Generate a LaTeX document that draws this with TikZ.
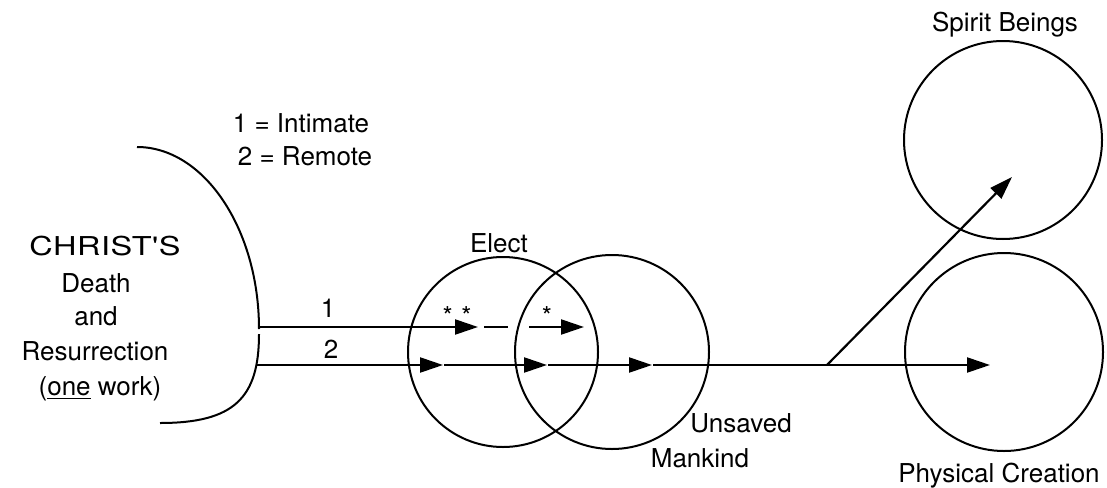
\documentclass[tikz,border=0pt]{standalone}
\usepackage{fontspec}
\newfontfamily\hv{TeX Gyre Heros}
\newfontfamily\hvwide{TeX Gyre Heros}[FakeStretch=1.25,LetterSpace=2]
\usetikzlibrary{arrows.meta}
\begin{document}
\begin{tikzpicture}[x=0.5pt,y=-0.5pt,
  ring/.style={circle, draw, line width=1pt, inner sep=0pt},
  curve/.style={line width=1pt},
  conn/.style={line width=1.1pt, -{Triangle[length=11.5pt,width=7.5pt]}},
  plain/.style={line width=1.1pt},
  lbl/.style={font=\hv\fontsize{13}{16}\selectfont, inner sep=0pt, anchor=base}]
\useasboundingbox (0,0) rectangle (1107,487);

% the half-shell standing for the one work
\coordinate (arcTop)  at (137,147);
\coordinate (arcMidA) at (259,329);
\coordinate (arcMidB) at (259,334);
\coordinate (arcBot)  at (160,423);
\draw[curve] (arcTop) .. controls (204,147) and (259,229) .. (arcMidA);
\draw[curve] (arcMidB) .. controls (259,398) and (234,423) .. (arcBot);

% the four spheres
\node[ring, minimum size=95pt] (elect)    at (503,352) {};
\node[ring, minimum size=97pt] (unsaved)  at (612,352) {};
\node[ring, minimum size=99pt] (spirit)   at (1003,140) {};
\node[ring, minimum size=99pt] (physical) at (1004,352) {};

% text of the source
\node[lbl] (c1) at (105,255) {\hvwide\fontsize{13}{16}\selectfont CHRIST'S};
\node[lbl] (c2) at (96,292) {Death};
\node[lbl] (c3) at (96,325) {and};
\node[lbl] (c4) at (95,360) {Resurrection};
\node[lbl] (c5) at (100,395) {(\underline{one} work)};

% legend
\node[lbl] (key1) at (301,132) {1 = Intimate};
\node[lbl] (key2) at (305,165) {2 = Remote};

% sphere names
\node[lbl] (electName)  at (499,252) {Elect};
\node[lbl] (unsavedA)   at (741,432) {Unsaved};
\node[lbl] (unsavedB)   at (700,467) {Mankind};
\node[lbl] (spiritName) at (1005,32) {Spirit Beings};
\node[lbl] (physName)   at (999,482) {Physical Creation};

% path 1 (intimate)
\coordinate (s1)  at (259,327);
\coordinate (t1a) at (478,327);
\coordinate (d1a) at (484,327);
\coordinate (d1b) at (508,327);
\coordinate (s1c) at (529,327);
\coordinate (t1c) at (584,327);
\draw[conn]  (s1) -- (t1a);
\draw[plain] (d1a) -- (d1b);
\draw[conn]  (s1c) -- (t1c);
\node[lbl] (one)   at (328,317) {1};
\node[lbl] (starA) at (457,325) {*\,\,*};
\node[lbl] (starB) at (547,325) {*};

% path 2 (remote)
\coordinate (s2)   at (257,365);
\coordinate (t2a)  at (443,365);
\coordinate (s2b)  at (444,365);
\coordinate (t2b)  at (547,365);
\coordinate (s2c)  at (548,365);
\coordinate (t2c)  at (652,365);
\coordinate (s2d)  at (653,365);
\coordinate (fork) at (827,365);
\coordinate (t2d)  at (990,365);
\coordinate (t2e)  at (1012,177);
\draw[conn] (s2)  -- (t2a);
\draw[conn] (s2b) -- (t2b);
\draw[conn] (s2c) -- (t2c);
\draw[conn] (s2d) -- (t2d);
\draw[conn] (fork) -- (t2e);
\node[lbl] (two) at (331,358) {2};
\end{tikzpicture}
\end{document}
